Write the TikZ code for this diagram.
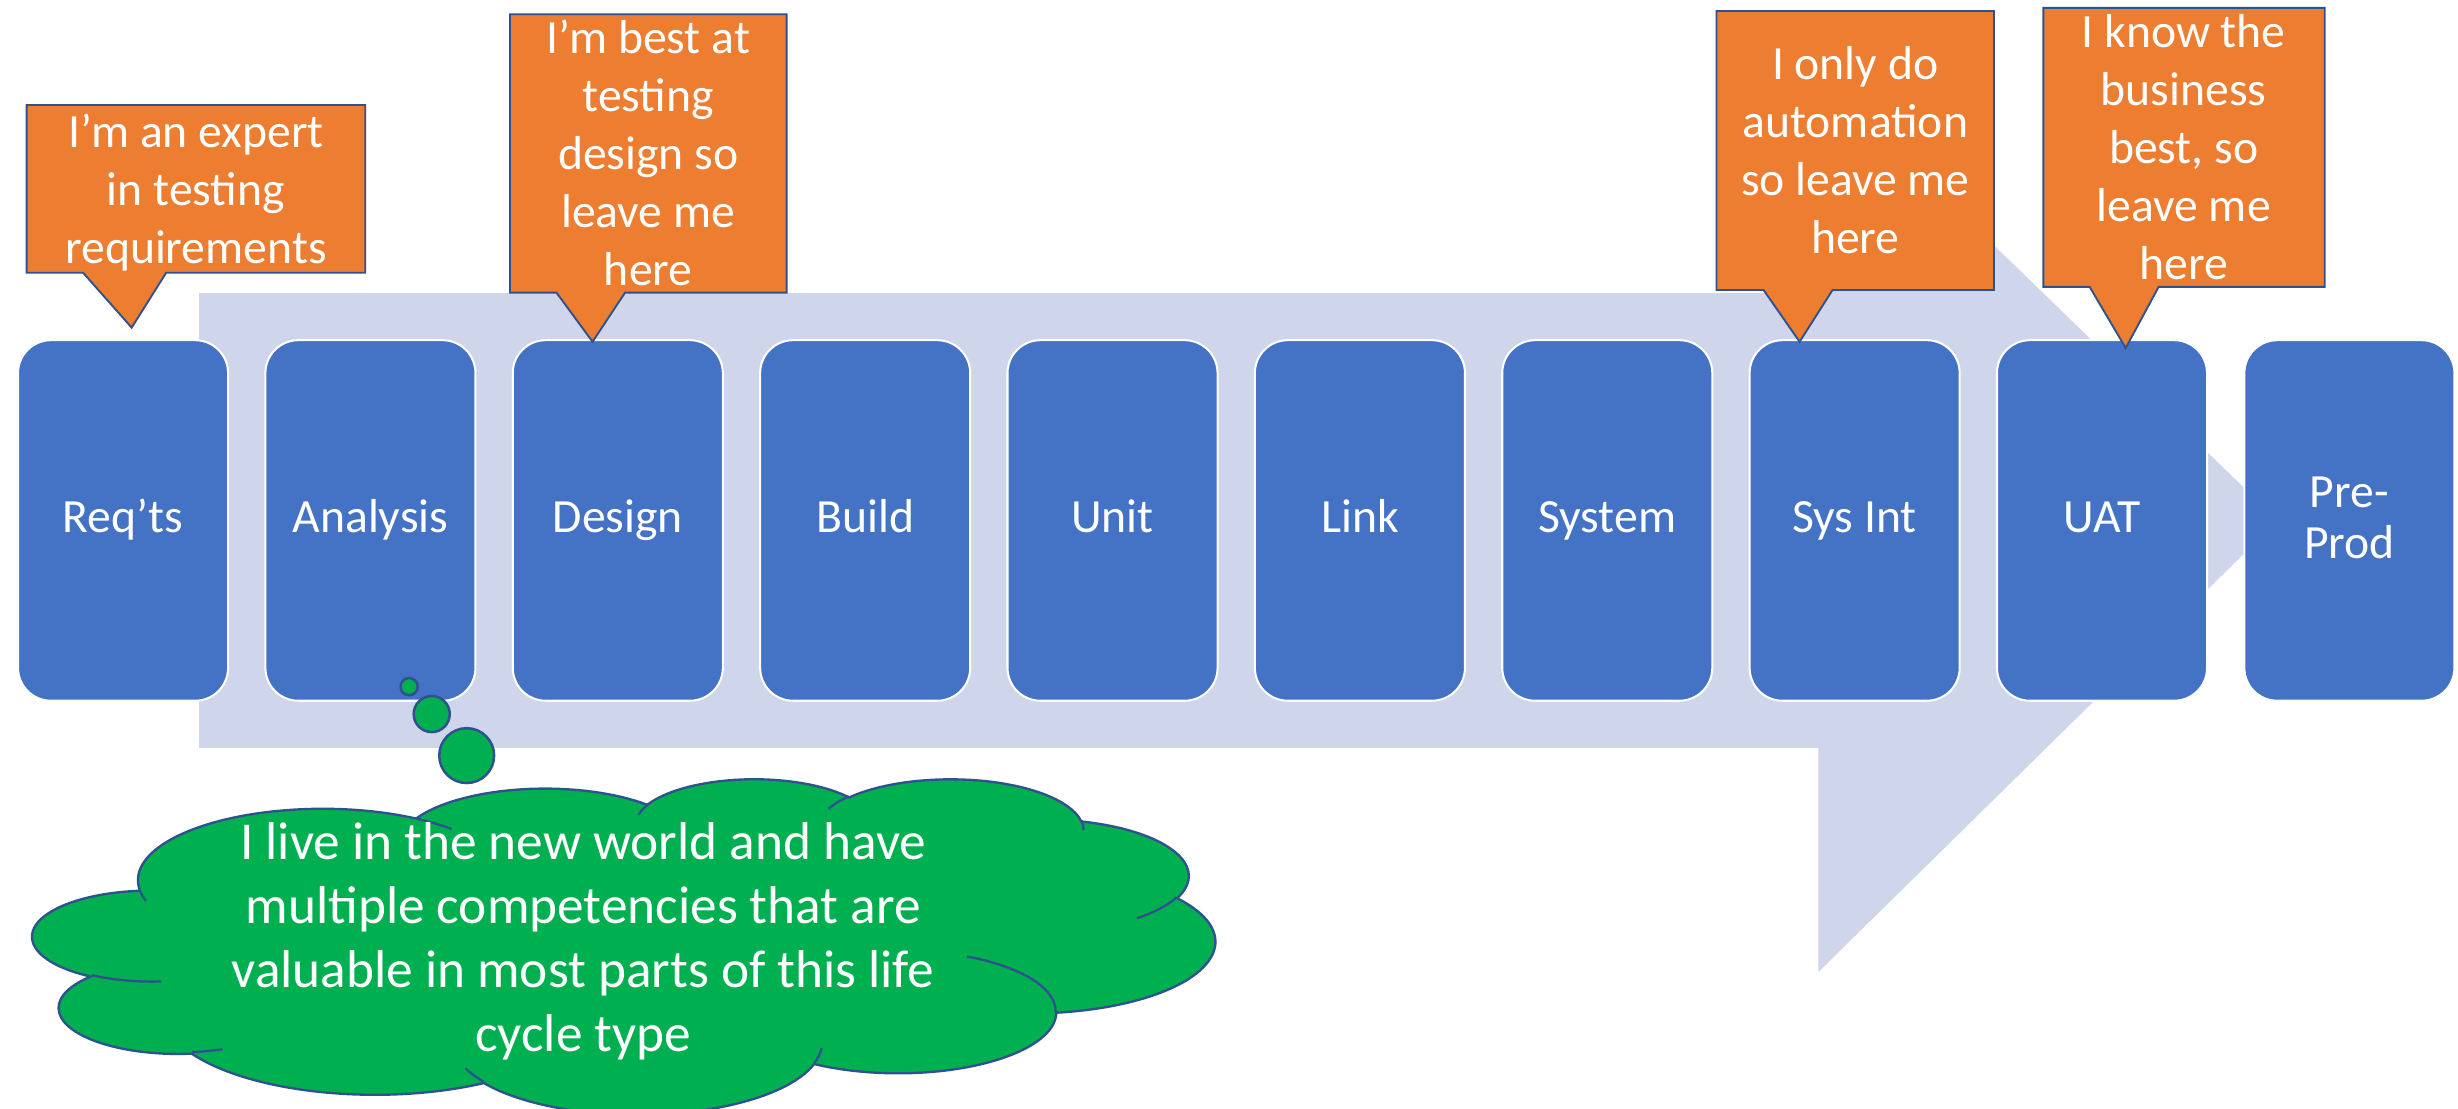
\documentclass[tikz,border=0pt]{standalone}
\usepackage{fontspec}
\setmainfont{Carlito}
\definecolor{boxblue}{HTML}{4472C4}
\definecolor{arrowlav}{HTML}{CFD5EA}
\definecolor{orng}{HTML}{ED7D31}
\definecolor{edgeblue}{HTML}{2F528F}
\definecolor{grn}{HTML}{00B050}
% label strut for the stage boxes (height 22pt, depth 6pt)
\newcommand\lst{\rule[-6pt]{0pt}{28pt}}
% convert an OOXML arc (visual angles) into TikZ parametric start/delta angles
\newcommand\ooprep[5]{%
  \pgfmathsetmacro\ooA{atan2((#2)*sin(#4),(#3)*cos(#4))}%
  \pgfmathsetmacro\ooB{atan2((#2)*sin((#4)+(#5)),(#3)*cos((#4)+(#5)))}%
  \pgfmathsetmacro\ooD{\ooB-\ooA}%
  \pgfmathsetmacro\ooD{\ooD+360*(\ooD<0)}%
  \expandafter\let\csname cst#1\endcsname\ooA
  \expandafter\let\csname cdl#1\endcsname\ooD
}
\begin{document}
\begin{tikzpicture}[x=1pt,y=1pt,yscale=-1,
  stage/.style={rectangle, rounded corners=21pt, fill=boxblue, draw=white,
    line width=1.3pt, minimum width=134pt, minimum height=230pt, inner sep=0pt,
    text=white, align=center, font=\fontsize{30.4pt}{32.3pt}\selectfont},
  callout/.style={fill=orng, draw=edgeblue, line width=1.2pt, line join=miter},
  calltext/.style={text=white, align=center, inner sep=0pt,
    font=\fontsize{30.4pt}{37pt}\selectfont},
  bubble/.style={circle, fill=grn, draw=edgeblue, line width=1.6pt, inner sep=0pt},
  cloudshape/.style={fill=grn, draw=edgeblue, line width=1.5pt},
  cloudline/.style={draw=edgeblue, line width=1.5pt},
  cloudtext/.style={text=white, align=center, inner sep=0pt,
    font=\fontsize{34pt}{40.8pt}\selectfont}]
\useasboundingbox (0,0) rectangle (1568,707.44);
\fill[white] (0,0) rectangle (1568,707.44);

% big background arrow
\fill[arrowlav] (127,187) -- (1160,187) -- (1160,48) -- (1453,332)
  -- (1160,620) -- (1160,477) -- (127,477) -- cycle;

% process stages
\node[stage] (s0) at (78.5,332)   {\lst Req’ts};
\node[stage] (s1) at (236.3,332)  {\lst Analysis};
\node[stage] (s2) at (394.1,332)  {\lst Design};
\node[stage] (s3) at (551.9,332)  {\lst Build};
\node[stage] (s4) at (709.7,332)  {\lst Unit};
\node[stage] (s5) at (867.5,332)  {\lst Link};
\node[stage] (s6) at (1025.3,332) {\lst System};
\node[stage] (s7) at (1183.1,332) {\lst Sys Int};
\node[stage] (s8) at (1340.9,332) {\lst UAT};
\node[stage] (s9) at (1498.7,332) {\lst Pre-\\\lst Prod};

% callouts
\draw[callout] (17,67) -- (233,67) -- (233,174) -- (106,174) -- (84,209)
  -- (53,174) -- (17,174) -- cycle;
\node[calltext] (c1) at (125,123.8)
  {\strut I’m an expert\\\strut in testing\\\strut requirements};

\draw[callout] (325.3,9.1) -- (501.8,9.1) -- (501.8,186.7) -- (398.7,186.7)
  -- (378,218) -- (355,186.7) -- (325.3,186.7) -- cycle;
\node[calltext] (c2) at (413.5,100.8)
  {\strut I’m best at\\\strut testing\\\strut design so\\\strut leave me\\\strut here};

\draw[callout] (1095,7) -- (1272,7) -- (1272,185) -- (1169,185)
  -- (1148,218) -- (1125,185) -- (1095,185) -- cycle;
\node[calltext] (c3) at (1183.5,98.5)
  {\strut I only do\\\strut automation\\\strut so leave me\\\strut here};

\draw[callout] (1303.5,5) -- (1483,5) -- (1483,183) -- (1377,183)
  -- (1356,222) -- (1333,183) -- (1303.5,183) -- cycle;
\node[calltext] (c4) at (1393,97.2)
  {\strut I know the\\\strut business\\\strut best, so\\\strut leave me\\\strut here};

% thought bubbles
\node[bubble, minimum size=11pt] (b1) at (261,438) {};
\node[bubble, minimum size=23pt] (b2) at (275.4,455.5) {};
\node[bubble, minimum size=35pt] (b3) at (297.7,482) {};

% cloud (OOXML cloud geometry, 432 x 432 frame)
\ooprep{A}{67.53}{91.90}{-190.48748}{123.78053}
\ooprep{B}{53.33}{72.67}{-144.10238}{89.94523}
\ooprep{C}{43.65}{59.45}{-145.80792}{99.72302}
\ooprep{D}{48.57}{65.95}{-130.98607}{117.24173}
\ooprep{E}{53.33}{72.73}{-78.70888}{109.02692}
\ooprep{F}{67.75}{92.20}{-46.26725}{130.269}
\ooprep{G}{57.85}{78.67}{0.62502}{114.03333}
\ooprep{H}{67.52}{92.15}{22.4516}{115.17255}
\ooprep{I}{77.20}{105.43}{66.24263}{75.71102}
\ooprep{J}{43.60}{59.18}{-274.94208}{146.73557}
\ooprep{K}{43.45}{59.45}{-246.8285}{152.51885}
\ooprep{a}{43.45}{59.45}{86.742}{26.4295}
\ooprep{b}{43.60}{59.18}{73.61047}{11.44747}
\ooprep{c}{67.52}{92.15}{137.62415}{14.0811}
\ooprep{d}{67.52}{92.15}{6.45327}{15.99835}
\ooprep{e}{57.85}{78.67}{-70.29235}{70.91737}
\ooprep{f}{53.33}{72.73}{30.31803}{27.7515}
\ooprep{g}{48.57}{65.95}{-13.74433}{14.8589}
\ooprep{h}{48.57}{65.95}{-149.18145}{18.19537}
\ooprep{i}{43.65}{59.45}{-163.49427}{17.68635}
\ooprep{j}{67.53}{91.90}{-66.70695}{12.31935}
\ooprep{k}{67.53}{91.90}{157.65435}{11.85817}
\begin{scope}[shift={(21,496.4)}, xscale=1.74537, yscale=0.49537]
\path[cloudshape] (39,143.7)
  arc[start angle=\cstA, delta angle=\cdlA, x radius=67.53, y radius=91.90]
  arc[start angle=\cstB, delta angle=\cdlB, x radius=53.33, y radius=72.67]
  arc[start angle=\cstC, delta angle=\cdlC, x radius=43.65, y radius=59.45]
  arc[start angle=\cstD, delta angle=\cdlD, x radius=48.57, y radius=65.95]
  arc[start angle=\cstE, delta angle=\cdlE, x radius=53.33, y radius=72.73]
  arc[start angle=\cstF, delta angle=\cdlF, x radius=67.75, y radius=92.20]
  arc[start angle=\cstG, delta angle=\cdlG, x radius=57.85, y radius=78.67]
  arc[start angle=\cstH, delta angle=\cdlH, x radius=67.52, y radius=92.15]
  arc[start angle=\cstI, delta angle=\cdlI, x radius=77.20, y radius=105.43]
  arc[start angle=\cstJ, delta angle=\cdlJ, x radius=43.60, y radius=59.18]
  arc[start angle=\cstK, delta angle=\cdlK, x radius=43.45, y radius=59.45]
  -- cycle;
\draw[cloudline] (46.93,261.77) arc[start angle=\csta, delta angle=\cdla, x radius=43.45, y radius=59.45];
\draw[cloudline] (69.28,348.99) arc[start angle=\cstb, delta angle=\cdlb, x radius=43.60, y radius=59.18];
\draw[cloudline] (164.78,390.90) arc[start angle=\cstc, delta angle=\cdlc, x radius=67.52, y radius=92.15];
\draw[cloudline] (288.27,347.51) arc[start angle=\cstd, delta angle=\cdld, x radius=67.52, y radius=92.15];
\draw[cloudline] (341.29,229.54) arc[start angle=\cste, delta angle=\cdle, x radius=57.85, y radius=78.67];
\draw[cloudline] (417.98,153.54) arc[start angle=\cstf, delta angle=\cdlf, x radius=53.33, y radius=72.73];
\draw[cloudline] (383.24,54.26) arc[start angle=\cstg, delta angle=\cdlg, x radius=48.57, y radius=65.95];
\draw[cloudline] (290.78,39.52) arc[start angle=\csth, delta angle=\cdlh, x radius=48.57, y radius=65.95];
\draw[cloudline] (221.41,47.20) arc[start angle=\csti, delta angle=\cdli, x radius=43.65, y radius=59.45];
\draw[cloudline] (140.00,51.92) arc[start angle=\cstj, delta angle=\cdlj, x radius=67.53, y radius=91.90];
\draw[cloudline] (41.27,157.89) arc[start angle=\cstk, delta angle=\cdlk, x radius=67.53, y radius=91.90];
\end{scope}
\node[cloudtext] (ct) at (372,601.6)
  {\strut I live in the new world and have\\\strut multiple competencies that are\\\strut valuable in most parts of this life\\\strut cycle type};
\end{tikzpicture}
\end{document}
